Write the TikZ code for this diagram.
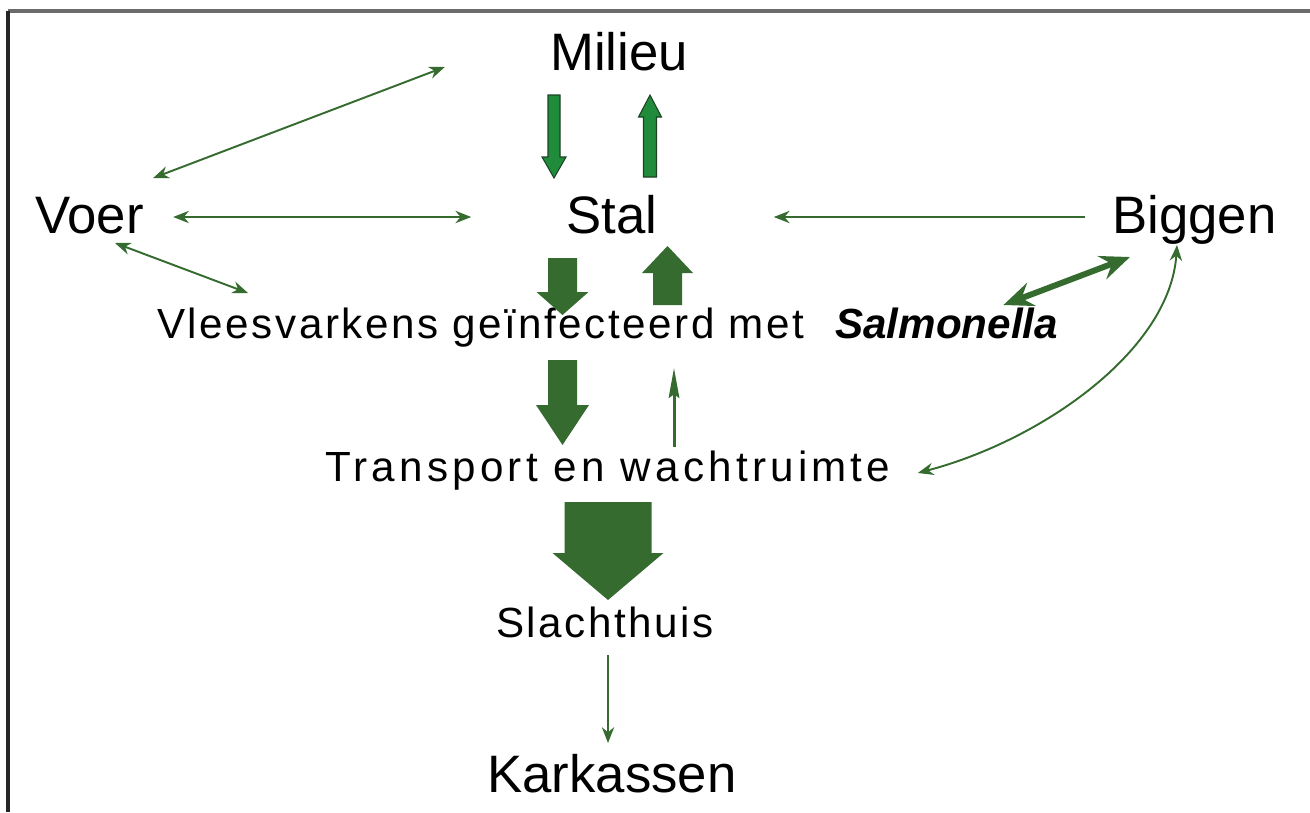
\documentclass[tikz,border=0pt]{standalone}
\usepackage{fontspec}
\setmainfont{Liberation Sans}
\newfontfamily\midfont[LetterSpace=6]{Liberation Sans}
\newfontfamily\widefont[LetterSpace=10]{Liberation Sans}
\usetikzlibrary{arrows.meta, calc}
\definecolor{stalgreen}{HTML}{356B2F}
\definecolor{milieugreen}{HTML}{1F8B3B}
\definecolor{milieuedge}{HTML}{1B4323}
\definecolor{framegrey}{HTML}{6B6B6B}

% block arrow: style, x, tail y, head base y, tip y, half shaft, half head
\newcommand{\blockarr}[7]{%
  \path[#1] (#2-#6,#3) -- (#2+#6,#3) -- (#2+#6,#4) -- (#2+#7,#4) -- (#2,#5)
    -- (#2-#7,#4) -- (#2-#6,#4) -- cycle;}

\tikzset{
  bigtext/.style={font=\fontsize{30}{36}\selectfont, inner sep=0pt},
  midtext/.style={font=\fontsize{24}{29}\midfont, inner sep=0pt},
  flow/.style={stalgreen, line width=1.1pt, -{Stealth[length=9pt,width=7pt]}},
  twoway/.style={stalgreen, line width=1.1pt, {Stealth[length=9pt,width=7pt]}-{Stealth[length=9pt,width=7pt]}},
  stalblock/.style={fill=stalgreen},
  milieublock/.style={fill=milieugreen, draw=milieuedge, line width=0.6pt}
}

\begin{document}
\begin{tikzpicture}[x=0.02cm, y=-0.02cm]
\useasboundingbox (0,0) rectangle (1310,812);
% frame
\draw[framegrey, line width=2.2pt] (8,11) -- (1310,11);
\draw[black!85, line width=2.2pt] (8,11) -- (8,812);

% Labels
\node[bigtext, anchor=base] (milieu) at (619,70) {Milieu};
\node[bigtext, anchor=base west] (voer) at (35,233) {Voer};
\node[bigtext, anchor=base] (stal) at (612,233) {Stal};
\node[bigtext, anchor=base west] (biggen) at (1112,233) {Biggen};
\node[midtext, anchor=base west] (vlees) at (157,338)
  {Vleesvarkens geïnfecteerd met\hspace{0.62cm}{\normalfont\bfseries\itshape Salmonella}};
\node[midtext, font=\fontsize{24}{29}\widefont, anchor=base west] (transport) at (325,481) {Transport en wachtruimte};
\node[midtext, anchor=base] (slachthuis) at (605,637) {Slachthuis};
\node[bigtext, anchor=base] (karkassen) at (612,792) {Karkassen};

% Block arrows
\blockarr{milieublock}{554}{95}{157}{178}{6}{12}
\blockarr{milieublock}{650}{177}{117}{95}{6.5}{11.5}
\blockarr{stalblock}{562.5}{258}{292}{315}{14.5}{26}
\blockarr{stalblock}{667.5}{305}{273}{246}{14.5}{25.5}
\blockarr{stalblock}{562.5}{360}{405}{445}{14.5}{26.5}
\blockarr{stalblock}{608}{502}{553}{600}{43.5}{55.5}

% Thin connectors
\draw[twoway] ($(voer.base east)+(9,-55)$) -- ($(milieu.base west)+(-105,-3)$);
\draw[twoway] ($(voer.base east)+(29,-16)$) -- ($(stal.base west)+(-95,-16)$);
\draw[twoway] ($(voer.base west)+(80,10)$) -- ($(vlees.base west)+(91,-45)$);
\draw[flow] ($(biggen.base west)+(-27,-16)$) -- ($(stal.base east)+(116,-16)$);
\draw[stalgreen, line width=3.4pt, {Stealth[length=17pt,width=14pt,inset=6pt]}-{Stealth[length=17pt,width=14pt,inset=6pt]}]
  ($(vlees.base east)+(-55,-33)$) -- ($(biggen.base west)+(18,24)$);
\draw[twoway] ($(transport.base east)+(27,-8)$) .. controls +(125,-33) and +(-7,105) .. ($(biggen.base west)+(65,12)$);
\draw[stalgreen, line width=1.7pt, -{Stealth[length=17pt,width=6pt,inset=2pt]}]
  ($(transport.base west)+(349,-34)$) -- ($(vlees.base west)+(517,30)$);
\draw[flow] ($(slachthuis.base)+(3,18)$) -- ($(karkassen.base)+(-4,-49)$);
\end{tikzpicture}
\end{document}
